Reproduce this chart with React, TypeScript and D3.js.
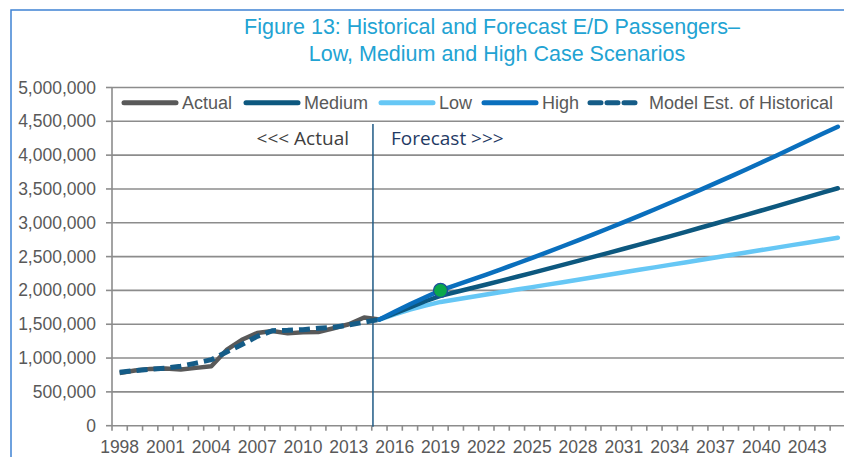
import React from 'react';
import * as d3 from 'd3';

const years: number[] = d3.range(1998, 2046);
const actualYears: number[] = d3.range(1998, 2016);
const forecastYears: number[] = d3.range(2015, 2046);

const actual: number[] = [
  780000, 815000, 840000, 845000, 830000, 855000, 880000, 1120000, 1270000,
  1370000, 1400000, 1365000, 1380000, 1385000, 1440000, 1500000, 1600000, 1570000,
];

const modelEst: number[] = [
  790000, 815000, 835000, 850000, 880000, 925000, 975000, 1090000, 1200000,
  1320000, 1405000, 1410000, 1420000, 1440000, 1455000, 1490000, 1530000, 1570000,
];

const medium: number[] = [
  1570000, 1660000, 1750000, 1840000, 1920000, 1976000, 2032000, 2088000, 2145000,
  2202000, 2260000, 2318000, 2377000, 2436000, 2495000, 2555000, 2616000, 2677000,
  2738000, 2800000, 2863000, 2926000, 2989000, 3053000, 3117000, 3182000, 3247000,
  3313000, 3379000, 3446000, 3510000,
];

const low: number[] = [
  1570000, 1645000, 1715000, 1775000, 1830000, 1867000, 1903000, 1940000, 1976000,
  2013000, 2049000, 2086000, 2122000, 2159000, 2195000, 2232000, 2268000, 2305000,
  2341000, 2378000, 2414000, 2451000, 2487000, 2524000, 2560000, 2597000, 2633000,
  2670000, 2706000, 2743000, 2779000,
];

const high: number[] = [
  1570000, 1685000, 1795000, 1900000, 2000000, 2077000, 2155000, 2235000, 2316000,
  2398000, 2482000, 2567000, 2653000, 2740000, 2829000, 2919000, 3010000, 3103000,
  3197000, 3292000, 3389000, 3487000, 3586000, 3686000, 3788000, 3891000, 3995000,
  4101000, 4208000, 4316000, 4420000,
];

const marker = { year: 2019, value: 2000000 };

const yTicks: number[] = d3.range(0, 5000001, 500000);
const xLabelYears: number[] = d3.range(1998, 2046, 3);

const legendItems = [
  { label: 'Actual', color: '#595959', dash: null, x: 124 },
  { label: 'Medium', color: '#0d587f', dash: null, x: 246 },
  { label: 'Low', color: '#66c7f5', dash: null, x: 381 },
  { label: 'High', color: '#0a6fbd', dash: null, x: 484 },
  { label: 'Model Est. of Historical', color: '#155c87', dash: '11 6', x: 590 },
];

const W = 844;
const H = 457;
const left = 112;
const top = 87.5;
const bottom = 425.7;
const step = 15.28;

const App: React.FC = () => {
  const x = d3
    .scaleBand<number>()
    .domain(years)
    .range([left, left + years.length * step]);
  const y = d3.scaleLinear().domain([0, 5000000]).range([bottom, top]);
  const cx = (yr: number) => (x(yr) as number) + x.bandwidth() / 2;

  const line = d3
    .line<[number, number]>()
    .x((d) => cx(d[0]))
    .y((d) => y(d[1]));

  const pairs = (ys: number[], vs: number[]) =>
    ys.map((yr, i) => [yr, vs[i]] as [number, number]);

  const right = left + years.length * step;
  const font = 'Arial, "Liberation Sans", sans-serif';
  const vx = (x(2015) as number) + 1.2;

  return (
    <svg
      width={W}
      height={H}
      style={{ position: 'absolute', left: 0, top: 0, background: '#fff' }}
    >
      <rect x={11} y={10} width={900} height={500} fill="none" stroke="#3f83d4" strokeWidth={1.5} />

      <text x={492} y={34} textAnchor="middle" fontFamily={font} fontSize={21.5} fill="#22a3d3">
        Figure 13: Historical and Forecast E/D Passengers–
      </text>
      <text x={497} y={61} textAnchor="middle" fontFamily={font} fontSize={21.5} fill="#22a3d3">
        Low, Medium and High Case Scenarios
      </text>

      {/* grid + y axis */}
      {yTicks.map((t) => (
        <g key={t}>
          <line x1={left} x2={right} y1={y(t)} y2={y(t)} stroke="#8c8c8c" strokeWidth={1.6} />
          <line x1={left - 6} x2={left} y1={y(t)} y2={y(t)} stroke="#8c8c8c" strokeWidth={1.6} />
          <text
            x={96}
            y={y(t) + 6}
            textAnchor="end"
            fontFamily={font}
            fontSize={17.5}
            fill="#595959"
          >
            {d3.format(',')(t)}
          </text>
        </g>
      ))}
      <line x1={left} x2={left} y1={top} y2={bottom} stroke="#8c8c8c" strokeWidth={1.6} />

      {/* x ticks */}
      {years.map((yr) => (
        <line
          key={yr}
          x1={x(yr) as number}
          x2={x(yr) as number}
          y1={bottom}
          y2={bottom + 5}
          stroke="#8c8c8c"
          strokeWidth={1.6}
        />
      ))}
      {xLabelYears.map((yr) => (
        <text
          key={yr}
          x={cx(yr)}
          y={453}
          textAnchor="middle"
          fontFamily={font}
          fontSize={17.5}
          fill="#595959"
        >
          {yr}
        </text>
      ))}

      {/* legend */}
      {legendItems.map((it) => (
        <g key={it.label}>
          <line
            x1={it.x}
            x2={it.x + (it.dash ? 48 : 52)}
            y1={102.7}
            y2={102.7}
            stroke={it.color}
            strokeWidth={5}
            strokeLinecap="round"
            strokeDasharray={it.dash ?? undefined}
          />
          <text
            x={it.x + (it.dash ? 59 : 58)}
            y={109}
            fontFamily={font}
            fontSize={18}
            fill="#595959"
          >
            {it.label}
          </text>
        </g>
      ))}

      {/* divider */}
      <line x1={vx} x2={vx} y1={124} y2={bottom + 1} stroke="#1f5a85" strokeWidth={1.5} />
      <text x={349} y={145} textAnchor="end" fontFamily='"Open Sans", sans-serif' fontSize={19} fill="#404040">
        {'<<< Actual'}
      </text>
      <text x={391} y={145} fontFamily='"Open Sans", sans-serif' fontSize={19} fill="#1f3a64">
        {'Forecast >>>'}
      </text>

      {/* series */}
      <path d={line(pairs(actualYears, actual)) ?? ''} fill="none" stroke="#595959" strokeWidth={4.5} strokeLinejoin="round" />
      <path d={line(pairs(forecastYears, low)) ?? ''} fill="none" stroke="#66c7f5" strokeWidth={4.5} strokeLinecap="round" />
      <path d={line(pairs(forecastYears, medium)) ?? ''} fill="none" stroke="#0d587f" strokeWidth={4.5} strokeLinecap="round" />
      <path d={line(pairs(forecastYears, high)) ?? ''} fill="none" stroke="#0a6fbd" strokeWidth={4.5} strokeLinecap="round" />
      <path
        d={line(pairs(actualYears, modelEst)) ?? ''}
        fill="none"
        stroke="#155c87"
        strokeWidth={5}
        strokeDasharray="11 6"
      />
      <circle cx={cx(marker.year)} cy={y(marker.value)} r={7} fill="#0aa84b" stroke="#1c4f9c" strokeWidth={1.3} />
    </svg>
  );
};

export default App;
